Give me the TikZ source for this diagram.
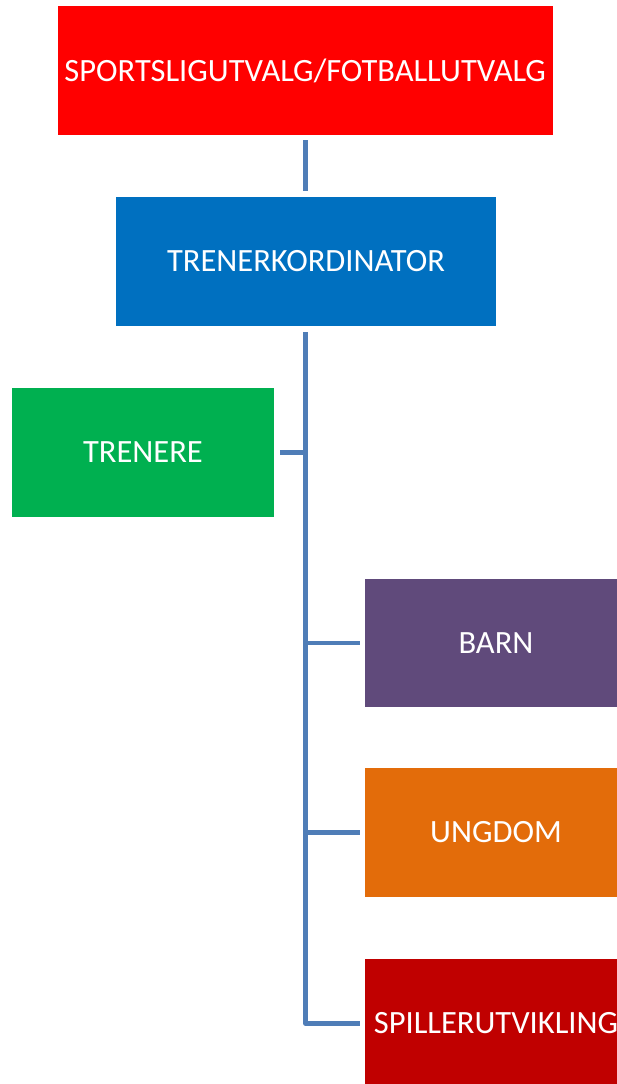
\documentclass[tikz,border=0pt]{standalone}
\usepackage{fontspec}
\setmainfont{Carlito}
\definecolor{cred}{HTML}{FF0000}
\definecolor{cblue}{HTML}{0070C0}
\definecolor{cgreen}{HTML}{00B050}
\definecolor{cpurple}{HTML}{604A7B}
\definecolor{corange}{HTML}{E36C0A}
\definecolor{cdred}{HTML}{C00000}
\definecolor{cline}{HTML}{4F7DB7}
\begin{document}
\begin{tikzpicture}[x=1pt,y=-1pt,
  box/.style={rectangle, inner sep=0pt, minimum height=129pt, text=white,
    font=\fontsize{32.5}{38}\selectfont},
  conn/.style={draw=cline, line width=4.5pt, line join=round}]
\useasboundingbox (0,0) rectangle (617,1084);
\node[box, fill=cred, minimum width=495.5pt] (sport) at (305.25,70.5) {SPORTSLIGUTVALG/FOTBALLUTVALG};
\node[box, fill=cblue, minimum width=380pt] (trener) at (306,261.5) {TRENERKORDINATOR};
\node[box, fill=cgreen, minimum width=262pt] (trenere) at (143,452.5) {TRENERE};
\node[box, fill=cpurple, minimum width=262pt, minimum height=128pt] (barn) at (496,643) {BARN};
\node[box, fill=corange, minimum width=262pt] (ungdom) at (496,832.5) {UNGDOM};
\node[box, fill=cdred, minimum width=262pt] (spill) at (496,1023.5) {SPILLERUTVIKLING};
\coordinate (trunk) at (305.5,332);
\draw[conn] ([yshift=-5pt]sport.south -| trunk) -- ([yshift=6pt]trener.north -| trunk);
\draw[conn] (trunk) |- ([xshift=-5pt]spill.west);
\draw[conn] ([xshift=6pt]trenere.east) -- (trenere.east -| trunk);
\draw[conn] (barn.west -| trunk) -- ([xshift=-5pt]barn.west);
\draw[conn] (ungdom.west -| trunk) -- ([xshift=-5pt]ungdom.west);
\end{tikzpicture}
\end{document}
